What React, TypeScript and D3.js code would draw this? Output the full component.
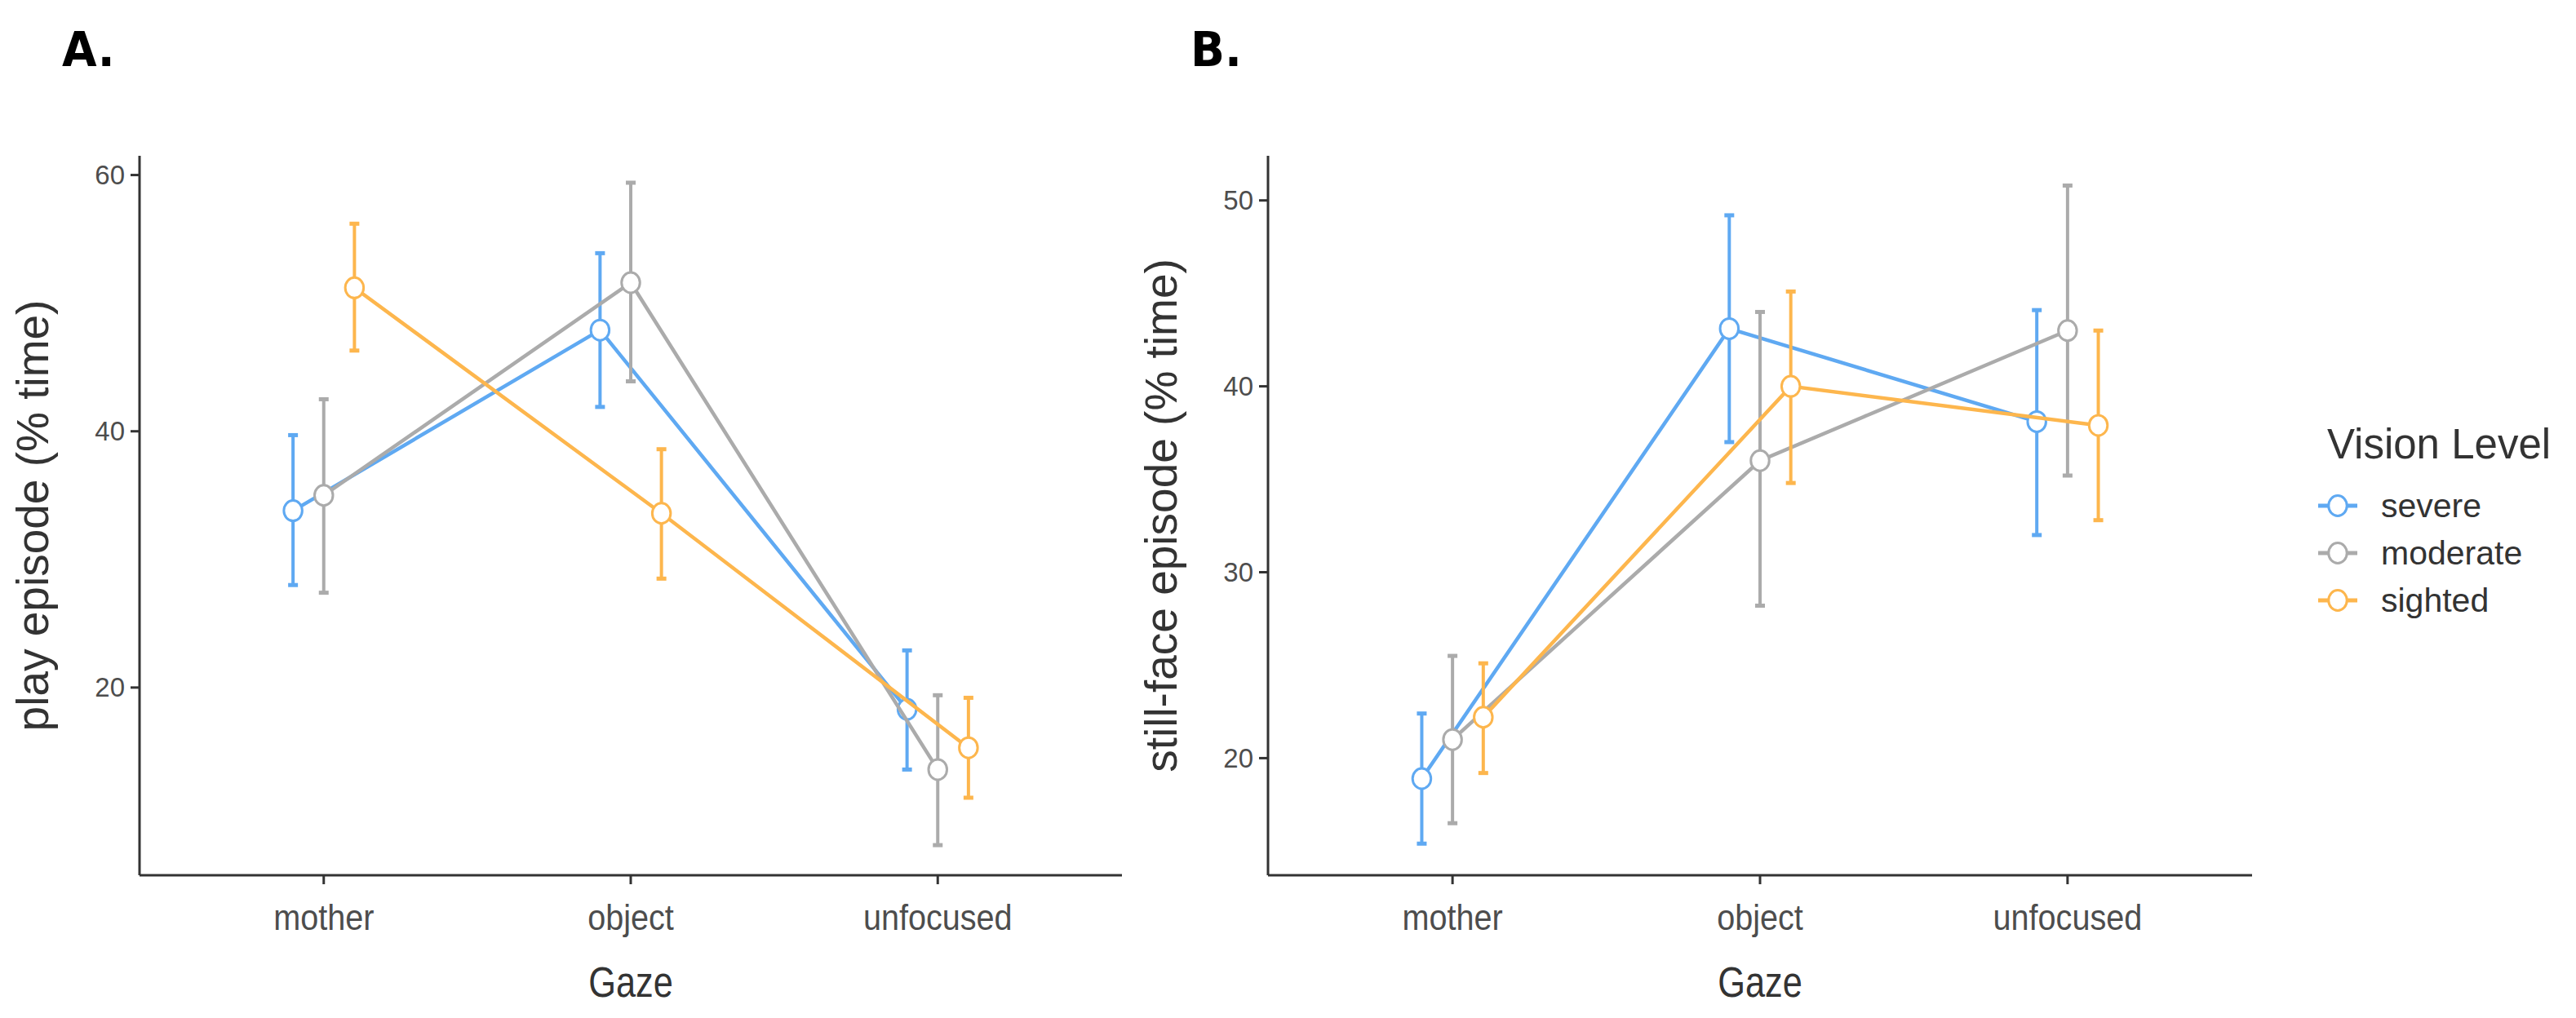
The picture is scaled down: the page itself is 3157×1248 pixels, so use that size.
import React from 'react';
import * as d3 from 'd3';

// categories and groups
const gazeCategories = ['mother', 'object', 'unfocused'];
const visionLevels = ['severe', 'moderate', 'sighted'];
const visionColors = ['#5fa9f2', '#ababab', '#fdb64d'];

// [mean, lower CI, upper CI] per gaze category
const playSevere = [[33.8, 28.0, 39.7], [47.9, 41.9, 53.9], [18.3, 13.6, 22.9]];
const playModerate = [[35.0, 27.4, 42.5], [51.6, 43.9, 59.4], [13.6, 7.7, 19.4]];
const playSighted = [[51.2, 46.3, 56.2], [33.6, 28.5, 38.6], [15.3, 11.4, 19.2]];

const stillSevere = [[18.9, 15.4, 22.4], [43.1, 37.0, 49.2], [38.1, 32.0, 44.1]];
const stillModerate = [[21.0, 16.5, 25.5], [36.0, 28.2, 44.0], [43.0, 35.2, 50.8]];
const stillSighted = [[22.2, 19.2, 25.1], [40.0, 34.8, 45.1], [37.9, 32.8, 43.0]];

const playTicks = [20, 40, 60];
const stillTicks = [20, 30, 40, 50];

const playDomain = [5.35, 61.5];
const stillDomain = [13.7, 52.4];

const W = 3157;
const H = 1248;
const FONT = '"Liberation Sans", Arial, sans-serif';
const TOP = 191;
const BOTTOM = 1073;
const R = 12.5;

interface PanelProps {
  letter: string;
  yTitle: string;
  series: number[][][];
  ticks: number[];
  domain: number[];
  left: number;
  right: number;
}

const Panel: React.FC<PanelProps> = ({ letter, yTitle, series, ticks, domain, left, right }) => {
  const x = d3.scalePoint().domain(gazeCategories).range([left, right]).padding(0.6);
  const y = d3.scaleLinear().domain(domain).range([BOTTOM, TOP]);
  const step = x.step();
  const dodge = (gi: number) => (gi - 1) * 0.1 * step;
  const line = d3.line<number[]>()
    .x((_, i) => (x(gazeCategories[i]) as number))
    .y(d => y(d[0]));
  const midX = (x('object') as number);

  return (
    <g>
      <text transform={`translate(${left - 95},81) scale(0.95,1)`}
        fontFamily='"DejaVu Sans", sans-serif' fontWeight="bold" fontSize={58} fill="#000">{letter}</text>

      {/* axes */}
      <line x1={left} x2={left} y1={TOP} y2={BOTTOM} stroke="#333" strokeWidth={3} />
      <line x1={left} x2={right} y1={BOTTOM} y2={BOTTOM} stroke="#333" strokeWidth={3} />
      {ticks.map(t => (
        <g key={t}>
          <line x1={left - 11} x2={left} y1={y(t)} y2={y(t)} stroke="#333" strokeWidth={3} />
          <text x={left - 18} y={y(t)} textAnchor="end" dy="0.35em"
            fontFamily={FONT} fontSize={33} fill="#4d4d4d">{t}</text>
        </g>
      ))}
      {gazeCategories.map(c => (
        <g key={c}>
          <line x1={x(c)} x2={x(c)} y1={BOTTOM} y2={BOTTOM + 11} stroke="#333" strokeWidth={3} />
          <text transform={`translate(${x(c)},${BOTTOM + 67}) scale(0.9,1)`} textAnchor="middle"
            fontFamily={FONT} fontSize={44} fill="#4d4d4d">{c}</text>
        </g>
      ))}
      <text transform={`translate(${midX},1222) scale(0.85,1)`} textAnchor="middle"
        fontFamily={FONT} fontSize={51} fill="#333">Gaze</text>
      <text transform={`translate(${left - 112},${(TOP + BOTTOM) / 2}) rotate(-90)`} textAnchor="middle"
        fontFamily={FONT} fontSize={55} fill="#333">{yTitle}</text>

      {/* series */}
      {series.map((s, gi) => {
        const col = visionColors[gi];
        const off = dodge(gi);
        return (
          <g key={gi} transform={`translate(${off},0)`}>
            <path d={line(s) || ''} fill="none" stroke={col} strokeWidth={4.5} />
            {s.map((d, i) => {
              const cx = x(gazeCategories[i]) as number;
              return (
                <g key={i}>
                  <line x1={cx} x2={cx} y1={y(d[1])} y2={y(d[2])} stroke={col} strokeWidth={4} />
                  <line x1={cx - 6} x2={cx + 6} y1={y(d[1])} y2={y(d[1])} stroke={col} strokeWidth={5} />
                  <line x1={cx - 6} x2={cx + 6} y1={y(d[2])} y2={y(d[2])} stroke={col} strokeWidth={5} />
                  <ellipse cx={cx} cy={y(d[0])} rx={R * 0.9} ry={R} fill="#fff" stroke={col} strokeWidth={3} />
                </g>
              );
            })}
          </g>
        );
      })}
    </g>
  );
};

const Legend: React.FC = () => {
  const ly = d3.scalePoint().domain(visionLevels).range([620, 736]);
  return (
    <g>
      <text x={2852} y={562} fontFamily={FONT} fontSize={51} fill="#333">Vision Level</text>
      {visionLevels.map((v, i) => {
        const yy = ly(v) as number;
        return (
          <g key={v}>
            <line x1={2841} x2={2889} y1={yy} y2={yy} stroke={visionColors[i]} strokeWidth={5} />
            <ellipse cx={2865} cy={yy} rx={R * 0.9} ry={R} fill="#fff" stroke={visionColors[i]} strokeWidth={3} />
            <text x={2918} y={yy} dy="0.35em" fontFamily={FONT} fontSize={41} fill="#333">{v}</text>
          </g>
        );
      })}
    </g>
  );
};

export default function App() {
  return (
    <svg width={W} height={H} style={{ display: 'block', background: '#fff', margin: -8 }}>
      <rect width={W} height={H} fill="#fff" />
      <Panel letter="A." yTitle="play episode (% time)" series={[playSevere, playModerate, playSighted]}
        ticks={playTicks} domain={playDomain} left={171} right={1375} />
      <Panel letter="B." yTitle="still-face episode (% time)" series={[stillSevere, stillModerate, stillSighted]}
        ticks={stillTicks} domain={stillDomain} left={1554} right={2760} />
      <Legend />
    </svg>
  );
}
